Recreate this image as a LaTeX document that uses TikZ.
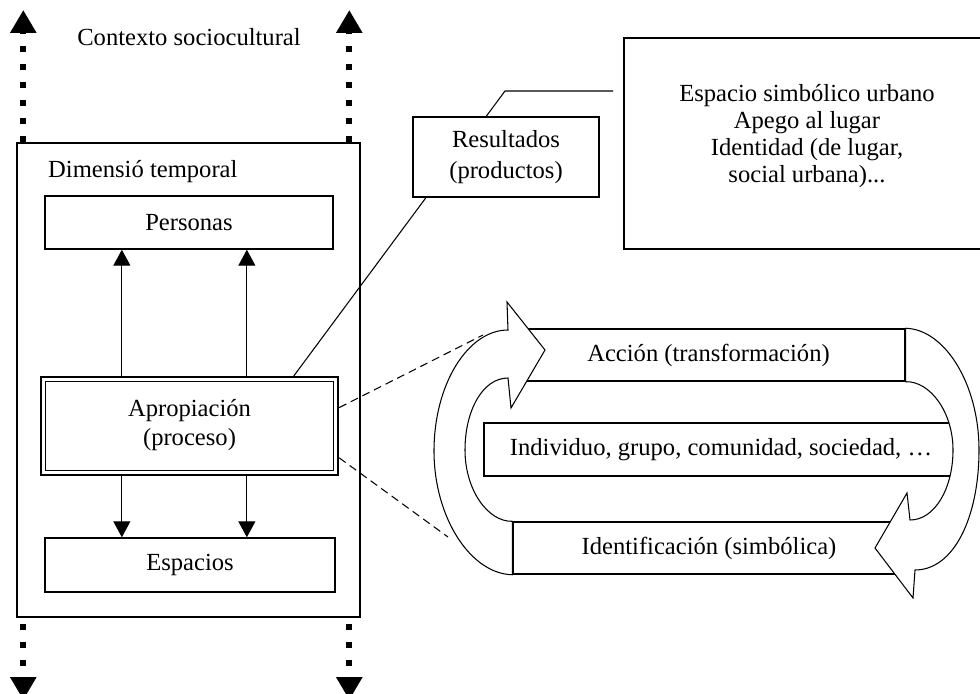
\documentclass[tikz,border=0pt]{standalone}
\usepackage{fontspec}
\setmainfont{Liberation Serif}
\usetikzlibrary{arrows.meta}

\tikzset{
  caja/.style 2 args={draw, line width=0.8pt, fill=white, minimum width=#1*0.02cm,
    minimum height=#2*0.02cm, inner sep=0pt, align=center},
  flechita/.style={line width=0.6pt, -{Triangle[width=0.34cm,length=0.32cm]}},
  contexto/.style={line width=0.12cm, dash pattern=on 0.12cm off 0.24cm,
    -{Triangle[width=0.5cm,length=0.46cm]}},
  ciclo/.style={draw, line width=0.6pt, fill=white, line join=miter},
  guia/.style={line width=0.6pt},
  discont/.style={line width=0.6pt, dash pattern=on 0.16cm off 0.1cm},
}

\begin{document}
\begin{tikzpicture}[x=0.02cm, y=-0.02cm, font=\fontsize{14}{17}\selectfont]
  \useasboundingbox (0,0) rectangle (980,693);
  \coordinate (cima) at (0,10);
  \coordinate (fondo) at (0,700);

  % contexto sociocultural
  \node (ctx) at (189,37) {Contexto sociocultural};
  \node[caja={343}{474}] (temporal) at (188.5,380) {};
  \node[anchor=west] (dimtemp) at (42,172) {Dimensió temporal};
  \foreach \dx [count=\i] in {7,333} {
    \path (temporal.north west) ++(\dx,0) coordinate (ta\i);
    \path (temporal.south west) ++(\dx,0) coordinate (tb\i);
    \draw[contexto] (ta\i) -- (ta\i |- cima);
    \draw[contexto, dash phase=0.24cm] (tb\i) -- (tb\i |- fondo);
  }

  % columna
  \node[caja={288}{53}] (pers) at (189,222.5) {Personas};
  \node[caja={297}{98}, line width=1.3pt] (apro) at (189.5,426) {};
  \draw[line width=0.7pt] ([shift={(6,6)}]apro.north west) rectangle ([shift={(-6,-6)}]apro.south east);
  \node[align=center] (aprotxt) at (189.5,425) {Apropiación\\(proceso)};
  \node[caja={290}{54}] (esp) at (190,565) {Espacios};
  \foreach \dx [count=\i] in {82,207} {
    \path (apro.north west) ++(\dx,0) coordinate (up\i);
    \path (apro.south west) ++(\dx,0) coordinate (dn\i);
    \draw[flechita] (up\i) -- (up\i |- pers.south);
    \draw[flechita] (dn\i) -- (dn\i |- esp.north);
  }

  % resultados
  \path (apro.north west) ++(254,0) coordinate (leadA);
  \coordinate (leadB) at (505,91);
  \coordinate (leadC) at (613,91);
  \draw[guia] (leadA) -- (leadB) -- (leadC);
  \node[caja={186}{80}, font=\fontsize{14}{18}\selectfont] (result) at (506,157) {Resultados\\(productos)};
  \node[caja={376}{211}] (simb) at (812,143.5) {};
  \node[font=\fontsize{14}{15.3}\selectfont, align=center] (simbtxt) at (807,136)
    {Espacio simbólico urbano\\Apego al lugar\\Identidad (de lugar,\\social urbana)...};

  % proceso
  \coordinate (cA) at (483,335);
  \coordinate (cB) at (448,537);
  \draw[discont] (apro.7) -- (cA);
  \draw[discont] (apro.-12) -- (cB);
  \node[caja={393}{52}] (accion) at (708.5,355) {Acción (transformación)};
  \node[caja={474}{53}] (indiv) at (721,449.5) {Individuo, grupo, comunidad, sociedad, …};
  \node[caja={392}{52}] (ident) at (709,548) {Identificación (simbólica)};

  \path[ciclo] (ident.south west) .. controls (471,574) and (434,518) .. (434,451)
    .. controls (434,384) and (468,330) .. (508,330) -- (507,302) -- (545,350)
    -- (511,408) -- (508,378) .. controls (483,378) and (465,410) .. (465,450)
    .. controls (465,490) and (488,522) .. (ident.north west) -- cycle;
  \path[ciclo] (accion.north east) .. controls (944,329) and (979,383) .. (979,450)
    .. controls (979,517) and (954,570) .. (915,570) -- (913,598) -- (875,548)
    -- (907,493) -- (910,520) .. controls (935,520) and (953,488) .. (953,450)
    .. controls (953,412) and (930,381) .. (accion.south east) -- cycle;
\end{tikzpicture}
\end{document}
